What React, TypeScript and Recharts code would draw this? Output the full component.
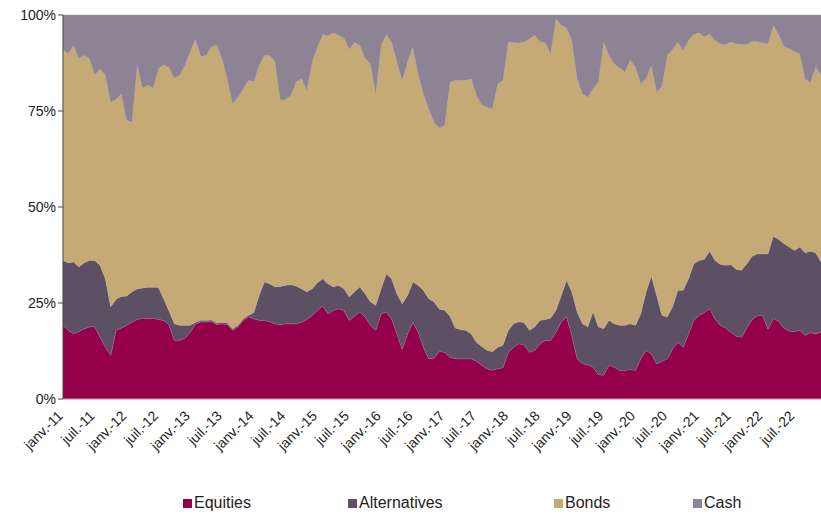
import React from "react";
import { AreaChart, Area, XAxis, YAxis, Legend } from "recharts";

const monthNames = ["janv.", "févr.", "mars", "avr.", "mai", "juin", "juil.", "août", "sept.", "oct.", "nov.", "déc."];
const years = ["11", "12", "13", "14", "15", "16", "17", "18", "19", "20", "21", "22"];

const equities = [
  19.2, 17.9, 17.0, 17.6, 18.3, 18.8, 18.9, 16.1, 13.5, 11.4, 17.9, 18.5,
  19.2, 20.0, 20.7, 21.1, 20.9, 21.1, 20.7, 20.5, 19.3, 15.3, 15.3, 15.9,
  17.4, 19.6, 20.1, 20.1, 20.2, 19.4, 19.6, 19.4, 17.9, 18.8, 20.5, 21.4,
  20.9, 20.5, 20.5, 20.1, 19.6, 19.4, 19.6, 19.6, 19.6, 20.0, 20.7, 21.8,
  23.1, 24.2, 22.2, 23.1, 23.5, 23.1, 20.5, 21.6, 22.7, 21.4, 19.2, 17.9,
  22.2, 22.7, 20.9, 17.0, 13.0, 17.0, 20.0, 17.5, 13.5, 10.5, 10.7, 12.4,
  12.2, 10.9, 10.5, 10.5, 10.5, 10.5, 9.8, 8.8, 7.9, 7.5, 7.9, 8.2,
  12.2, 13.5, 14.4, 14.1, 12.2, 12.7, 14.4, 15.3, 15.3, 17.4, 20.1, 21.4,
  16.6, 10.5, 9.2, 8.9, 8.3, 6.4, 6.2, 8.8, 8.3, 7.5, 7.5, 7.7,
  7.5, 10.5, 12.7, 11.8, 9.2, 9.8, 10.5, 13.1, 14.8, 13.5, 17.0, 20.5,
  21.8, 22.5, 23.6, 20.9, 19.2, 18.5, 17.4, 16.4, 16.1, 18.5, 20.7, 21.7,
  21.7, 18.2, 21.1, 20.2, 18.5, 17.7, 17.6, 17.9, 16.6, 17.3, 17.0, 17.4,
];

const alternatives = [
  16.9, 17.6, 18.7, 16.8, 17.2, 17.3, 17.2, 18.7, 17.8, 12.6, 8.1, 8.2,
  7.6, 7.9, 8.0, 7.8, 8.2, 8.0, 8.4, 5.6, 3.7, 4.3, 3.9, 3.3,
  1.8, 0.4, 0.4, 0.4, 0.4, 0.4, 0.4, 0.4, 0.4, 0.4, 0.4, 0.4,
  1.6, 6.5, 10.0, 9.9, 9.6, 9.9, 10.0, 10.2, 9.8, 8.7, 7.2, 6.9,
  7.2, 7.1, 7.8, 6.1, 6.1, 5.6, 6.1, 6.3, 6.5, 6.0, 6.1, 6.5,
  6.5, 9.9, 10.4, 10.4, 11.8, 10.0, 10.5, 12.1, 14.8, 15.6, 14.6, 11.0,
  10.9, 10.7, 8.0, 7.6, 7.4, 6.5, 5.0, 4.9, 4.8, 4.8, 5.6, 5.8,
  5.7, 6.1, 5.7, 5.8, 5.7, 6.1, 6.1, 5.4, 5.8, 5.7, 6.9, 9.5,
  11.3, 12.2, 10.4, 9.9, 14.4, 12.4, 12.1, 11.7, 11.3, 11.7, 11.7, 11.9,
  11.7, 11.7, 15.2, 20.2, 17.8, 12.0, 10.9, 10.9, 13.5, 14.8, 14.3, 14.7,
  14.3, 13.9, 14.9, 15.2, 15.9, 16.3, 17.6, 17.4, 17.4, 16.7, 16.5, 16.1,
  16.1, 19.6, 21.3, 21.4, 22.0, 21.9, 21.1, 21.7, 21.5, 21.2, 21.1, 18.3,
];

const bonds = [
  55.0, 54.4, 56.4, 54.2, 54.0, 52.5, 48.4, 51.2, 53.0, 53.3, 52.0, 52.8,
  45.8, 44.2, 58.4, 52.1, 52.6, 51.9, 56.9, 61.0, 63.3, 64.0, 65.1, 67.7,
  71.2, 73.8, 68.7, 69.0, 71.1, 72.3, 68.6, 63.6, 58.6, 59.4, 59.9, 61.2,
  60.1, 59.9, 59.0, 59.5, 58.6, 48.5, 48.4, 49.3, 53.2, 54.7, 52.5, 59.1,
  61.4, 63.6, 64.7, 66.2, 65.1, 65.3, 64.5, 65.0, 62.9, 61.4, 62.0, 55.1,
  63.4, 62.3, 61.7, 60.4, 58.2, 60.8, 61.2, 55.1, 51.2, 49.5, 46.8, 47.2,
  48.2, 60.9, 64.5, 64.9, 65.1, 66.4, 64.3, 62.9, 63.3, 63.3, 68.5, 69.0,
  75.1, 73.2, 72.6, 73.1, 75.9, 75.9, 72.6, 72.1, 68.9, 75.9, 70.3, 65.8,
  65.5, 60.7, 59.9, 59.8, 58.1, 63.8, 74.7, 69.0, 67.7, 67.0, 66.0, 68.6,
  67.3, 59.9, 55.5, 54.9, 53.0, 59.5, 68.1, 67.1, 64.6, 62.5, 62.1, 59.7,
  59.3, 57.9, 56.6, 57.3, 57.4, 57.5, 58.0, 58.7, 58.9, 57.1, 55.9, 55.3,
  55.0, 54.7, 54.9, 53.3, 51.4, 51.6, 51.8, 50.4, 45.3, 43.9, 48.4, 48.6,
];

const cash = [
  8.9, 10.1, 7.9, 11.4, 10.5, 11.4, 15.5, 14.0, 15.7, 22.7, 22.0, 20.5,
  27.4, 27.9, 12.9, 19.0, 18.3, 19.0, 14.0, 12.9, 13.7, 16.4, 15.7, 13.1,
  9.6, 6.2, 10.8, 10.5, 8.3, 7.9, 11.4, 16.6, 23.1, 21.4, 19.2, 17.0,
  17.4, 13.1, 10.5, 10.5, 12.2, 22.2, 22.0, 20.9, 17.4, 16.6, 19.6, 12.2,
  8.3, 5.1, 5.3, 4.6, 5.3, 6.0, 8.9, 7.1, 7.9, 11.2, 12.7, 20.5,
  7.9, 5.1, 7.0, 12.2, 17.0, 12.2, 8.3, 15.3, 20.5, 24.4, 27.9, 29.4,
  28.7, 17.5, 17.0, 17.0, 17.0, 16.6, 20.9, 23.4, 24.0, 24.4, 18.0, 17.0,
  7.0, 7.2, 7.3, 7.0, 6.2, 5.3, 6.9, 7.2, 10.0, 1.0, 2.7, 3.3,
  6.6, 16.6, 20.5, 21.4, 19.2, 17.4, 7.0, 10.5, 12.7, 13.8, 14.8, 11.8,
  13.5, 17.9, 16.6, 13.1, 20.0, 18.7, 10.5, 8.9, 7.1, 9.2, 6.6, 5.1,
  4.6, 5.7, 4.9, 6.6, 7.5, 7.7, 7.0, 7.5, 7.6, 7.7, 6.9, 6.9,
  7.2, 7.5, 2.7, 5.1, 8.1, 8.8, 9.5, 10.0, 16.6, 17.6, 13.5, 15.7,
];

const yTicks = [0, 25, 50, 75, 100];

const months = years.flatMap((y) => monthNames.map((m) => `${m}-${y}`));

const data = months.map((month, i) => ({
  month,
  Equities: equities[i],
  Alternatives: alternatives[i],
  Bonds: bonds[i],
  Cash: cash[i],
}));

const series = [
  { key: "Equities", color: "#94004a" },
  { key: "Alternatives", color: "#5d5064" },
  { key: "Bonds", color: "#c5aa76" },
  { key: "Cash", color: "#8e8394" },
];

// left edge of each legend square, relative to the legend wrapper (which sits at margin.left)
const legendLeft = [170, 335, 541, 680];

function MonthTick({ x, y, payload }: any) {
  return (
    <g transform={`translate(${x - 5},${y + 4})`}>
      <text
        x={0}
        y={0}
        dy={8}
        textAnchor="end"
        transform="rotate(-45)"
        fontSize={14}
        fill="#222"
      >
        {payload.value}
      </text>
    </g>
  );
}

function ChartLegend() {
  return (
    <div style={{ position: "relative", height: 30, width: 808 }}>
      {series.map((s, i) => (
        <div
          key={s.key}
          style={{
            position: "absolute",
            left: legendLeft[i],
            top: 9,
            display: "flex",
            alignItems: "center",
            fontSize: 16,
            color: "#222",
          }}
        >
          <span style={{ width: 9, height: 9, background: s.color, marginRight: 2, display: "inline-block" }} />
          {s.key}
        </div>
      ))}
    </div>
  );
}

export default function App() {
  return (
    <div
      style={{
        position: "absolute",
        left: 0,
        top: 0,
        width: 821,
        height: 515,
        background: "#fff",
        fontFamily: "'Liberation Sans', Arial, sans-serif",
      }}
    >
      <AreaChart
        width={821}
        height={515}
        data={data}
        margin={{ top: 15, right: 0, left: 13, bottom: 0 }}
      >
        <XAxis
          dataKey="month"
          interval={5}
          tick={<MonthTick />}
          tickLine={false}
          axisLine={{ stroke: "#d08aa8" }}
          height={86}
        />
        <YAxis
          domain={[0, 100]}
          ticks={yTicks}
          tickFormatter={(v) => `${v}%`}
          width={50}
          tick={{ fontSize: 14, fill: "#222" }}
          axisLine={{ stroke: "#444" }}
          tickLine={{ stroke: "#444" }}
          tickSize={5}
        />
        <Legend verticalAlign="bottom" height={30} content={<ChartLegend />} />
        {series.map((s) => (
          <Area
            key={s.key}
            type="linear"
            dataKey={s.key}
            stackId="1"
            stroke="#a79ca6"
            strokeWidth={0.6}
            fill={s.color}
            fillOpacity={1}
            isAnimationActive={false}
          />
        ))}
      </AreaChart>
    </div>
  );
}
